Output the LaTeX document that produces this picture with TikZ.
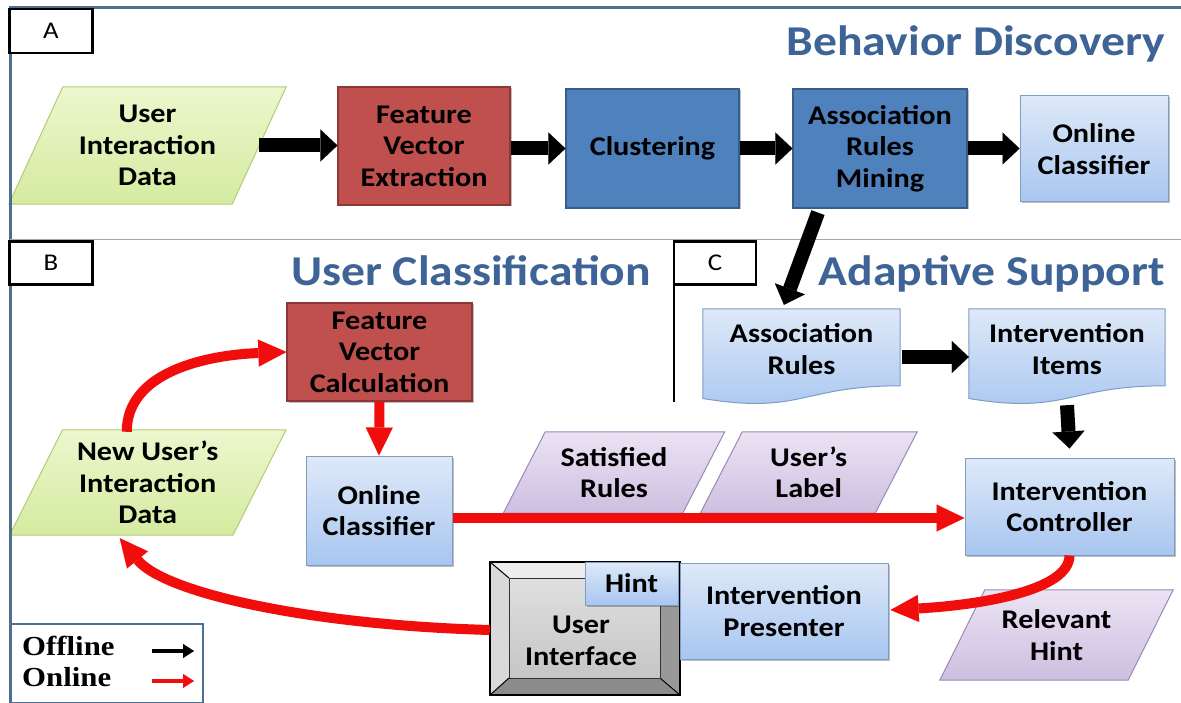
\documentclass[tikz,border=0pt]{standalone}
\usepackage{fontspec}
\setmainfont{Carlito}[FakeStretch=1.12]
\newfontfamily\legfont{Liberation Serif}[FakeStretch=1.12]
\usetikzlibrary{arrows.meta,calc,backgrounds,shadows}
\definecolor{frameblue}{HTML}{4F6F8F}
\definecolor{titleblue}{HTML}{3E6497}
\definecolor{redfill}{HTML}{C0504D}
\definecolor{redline}{HTML}{8C3836}
\definecolor{bluefill}{HTML}{4F81BD}
\definecolor{blueline}{HTML}{385D8A}
\definecolor{ltop}{HTML}{DEE9F8}
\definecolor{lbot}{HTML}{A8C6F0}
\definecolor{lline}{HTML}{7E9CC4}
\definecolor{gtop}{HTML}{ECF7CD}
\definecolor{gbot}{HTML}{D4EBA0}
\definecolor{gline}{HTML}{B2CC78}
\definecolor{ptop}{HTML}{EBE3F4}
\definecolor{pbot}{HTML}{CDBFE0}
\definecolor{pline}{HTML}{9A88B5}
\definecolor{arrred}{HTML}{F20D0D}
\newcommand\myparal[3]{\path[#3] ($(#1.north west)+(#2,0)$) -- ($(#1.north east)+(#2,0)$) -- ($(#1.south east)+(-#2,0)$) -- ($(#1.south west)+(-#2,0)$) -- cycle;}
\newcommand\mydoc[2]{\path[#2] (#1.north west) -- (#1.north east) -- ($(#1.north east)+(0,77)$) .. controls ($(#1.north)+(0,77)$) and ($(#1.north)+(0,106)$) .. ($(#1.north west)+(0,89.7)$) -- cycle;}
\begin{document}
\begin{tikzpicture}[x=1pt,y=-1pt,
  txt/.style={font=\bfseries\fontsize{27}{31.5}\selectfont, align=center, inner sep=0pt, text=black},
  shad/.style={drop shadow={shadow xshift=1.5pt, shadow yshift=-1.5pt, fill=black, opacity=0.25}},
  redbox/.style={txt, shad, draw=redline, line width=1.2pt, fill=redfill},
  darkbox/.style={txt, shad, draw=blueline, line width=1.2pt, fill=bluefill},
  lbox/.style={txt, shad, draw=lline, line width=1pt, top color=ltop, bottom color=lbot},
  greenpara/.style={draw=gline, line width=1pt, top color=gtop, bottom color=gbot},
  purplepara/.style={draw=pline, line width=1pt, top color=ptop, bottom color=pbot},
  docstyle/.style={draw=lline, line width=1pt, top color=ltop, bottom color=lbot},
  lbl/.style={draw=black, line width=2.5pt, fill=white, inner sep=0pt, font=\fontsize{24}{28}\selectfont},
  title/.style={inner sep=0pt, text=titleblue, font=\bfseries\fontsize{42.5}{48}\selectfont},
  blk/.style={draw=black, line width=14pt, -{Triangle[length=17pt,width=32pt,line width=0.01pt]}},
  rarr/.style={draw=arrred, line width=10pt, -{Triangle[length=28pt,width=27pt,line width=0.01pt]}},
  legtxt/.style={anchor=base west, inner sep=0pt, font=\legfont\bfseries\fontsize{27.5}{30}\selectfont}
]
\useasboundingbox (0,0) rectangle (1181,703);

% frame
\draw[frameblue, line width=3pt] (10,703) -- (10,8) -- (1181,8);
\draw[gray!70, line width=1pt] (10,240) -- (1181,240);
\draw[black, line width=2pt] (674,242) -- (674,402);

% section labels and titles
\node[lbl, minimum width=83, minimum height=44] (labA) at (51,31) {A};
\node[lbl, minimum width=83, minimum height=43] (labB) at (51,263) {B};
\node[lbl, minimum width=82, minimum height=43] (labC) at (715,263) {C};
\node[title, anchor=base east] (tA) at (1165,56) {Behavior Discovery};
\node[title, anchor=base west] (tB) at (291,286) {User Classification};
\node[title, anchor=base east] (tC) at (1165,286) {Adaptive Support};

% section A
\node[txt, minimum width=223, minimum height=117] (uid) at (147.5,145.5) {User\\Interaction\\Data};
\node[redbox, minimum width=172, minimum height=118] (fve) at (424,146) {Feature\\Vector\\Extraction};
\node[darkbox, minimum width=173, minimum height=119] (clus) at (652.5,148.5) {Clustering};
\node[darkbox, minimum width=174, minimum height=119] (arm) at (880,148.5) {Association\\Rules\\Mining};
\node[lbox, minimum width=148, minimum height=106] (oca) at (1094,149) {Online\\Classifier};

% section B
\node[redbox, minimum width=185, minimum height=98] (fvc) at (379.5,352) {Feature\\Vector\\Calculation};
\node[txt, minimum width=223, minimum height=105] (nuid) at (147.75,482.5) {New User’s\\Interaction\\Data};
\node[lbox, minimum width=146, minimum height=109] (ocb) at (379,510.5) {Online\\Classifier};
\node[txt, minimum width=179, minimum height=81] (sr) at (614,472.5) {Satisfied\\Rules};
\node[txt, minimum width=174.5, minimum height=81] (ul) at (808.75,472.5) {User’s\\Label};

% section C
\node[minimum width=197, minimum height=96, inner sep=0pt] (ar) at (801.5,357) {};
\node[minimum width=196, minimum height=96, inner sep=0pt] (ii) at (1067,357) {};
\node[lbox, minimum width=209, minimum height=97] (ic) at (1069.5,506.5) {Intervention\\Controller};
\node[lbox, minimum width=208, minimum height=96] (ip) at (784,611) {Intervention\\Presenter};
\node[txt, minimum width=188, minimum height=90] (rh) at (1056.5,635) {Relevant\\Hint};

% user interface
\node[minimum width=190, minimum height=133, inner sep=0pt] (ui) at (585,628.5) {};
\coordinate (uiA) at (509,578);
\coordinate (uiB) at (660,678);

\begin{scope}[on background layer]
  \fill[white] (0,0) rectangle (1181,703);
  \myparal{uid}{27}{greenpara}
  \myparal{nuid}{26.5}{greenpara}
  \myparal{sr}{21}{purplepara}
  \myparal{ul}{21}{purplepara}
  \myparal{rh}{22.5}{purplepara}
  \mydoc{ar}{docstyle}
  \mydoc{ii}{docstyle}
  % bevel
  \fill[gray!14] (ui.north west) -- (ui.north east) -- (uiB |- uiA) -- (uiA) -- cycle;
  \fill[gray!30] (ui.north west) -- (uiA) -- (uiA |- uiB) -- (ui.south west) -- cycle;
  \fill[gray!100!black!80] (ui.north east) -- (ui.south east) -- (uiB) -- (uiB |- uiA) -- cycle;
  \fill[gray!90] (ui.south west) -- (uiA |- uiB) -- (uiB) -- (ui.south east) -- cycle;
  \shade[top color=gray!25, bottom color=gray!45] (uiA) rectangle (uiB);
  \draw[black, line width=1pt] (ui.north west) -- (uiA) (ui.north east) -- (uiB |- uiA) (ui.south west) -- (uiA |- uiB) (ui.south east) -- (uiB);
  \draw[black!80, line width=1pt] (uiA) rectangle (uiB);
  \draw[black, line width=1.5pt] (ui.north west) rectangle (ui.south east);
\end{scope}

\node[txt] (ar-t) at (801.5,349) {Association\\Rules};
\node[txt] (ii-t) at (1067,349) {Intervention\\Items};
\node[txt] (ui-t) at (581,641) {User\\Interface};
\node[lbox, minimum width=93, minimum height=43] (hint) at (631.5,583.5) {Hint};

% black arrows
\draw[blk] (uid.east) -- (uid.east -| fve.west);
\draw[blk] (fve.east |- clus.west) -- (clus.west);
\draw[blk] (clus.east) -- (arm.west);
\draw[blk] (arm.east) -- (arm.east -| oca.west);
\draw[blk] ($(arm.south)+(-62,4)$) -- ($(ar.north)+(-17.5,-4)$);
\draw[blk] ($(ar.east)+(2,0)$) -- (ii.west);
\draw[blk] (ii.south) -- ($(ic.north)+(0,-9)$);

% red arrows
\draw[rarr] (fvc.south) -- (ocb.north);
\draw[rarr] ($(ocb.east)+(0,7.5)$) coordinate (o1) -- (o1 -| ic.west);
\draw[rarr] ($(nuid.north)+(-21,2)$) .. controls +(0,-60) and +(-80,3) .. (fvc.west);
\draw[rarr] (ic.south) .. controls +(0,35) and +(90,-5) .. ($(ip.east)+(2,-1)$);
\draw[rarr] ($(ui.west)+(0,1.5)$) .. controls +(-180,-5) and +(45,55) .. ($(nuid.south)+(-28,3)$);

% legend
\node[draw=frameblue, line width=2.5pt, minimum width=193, minimum height=79, inner sep=0pt] (leg) at (106.5,663.5) {};
\node[legtxt] (offl) at (22,655) {Offline};
\node[legtxt] (onl) at (22,686) {Online};
\coordinate (lb1) at (152,651);
\coordinate (lb2) at (194,651);
\coordinate (lr1) at (152,681);
\coordinate (lr2) at (194,681);
\draw[black, line width=4.5pt, -{Triangle[length=11pt,width=14pt,line width=0.01pt]}] (lb1) -- (lb2);
\draw[arrred, line width=4.5pt, -{Triangle[length=11pt,width=14pt,line width=0.01pt]}] (lr1) -- (lr2);
\end{tikzpicture}
\end{document}
